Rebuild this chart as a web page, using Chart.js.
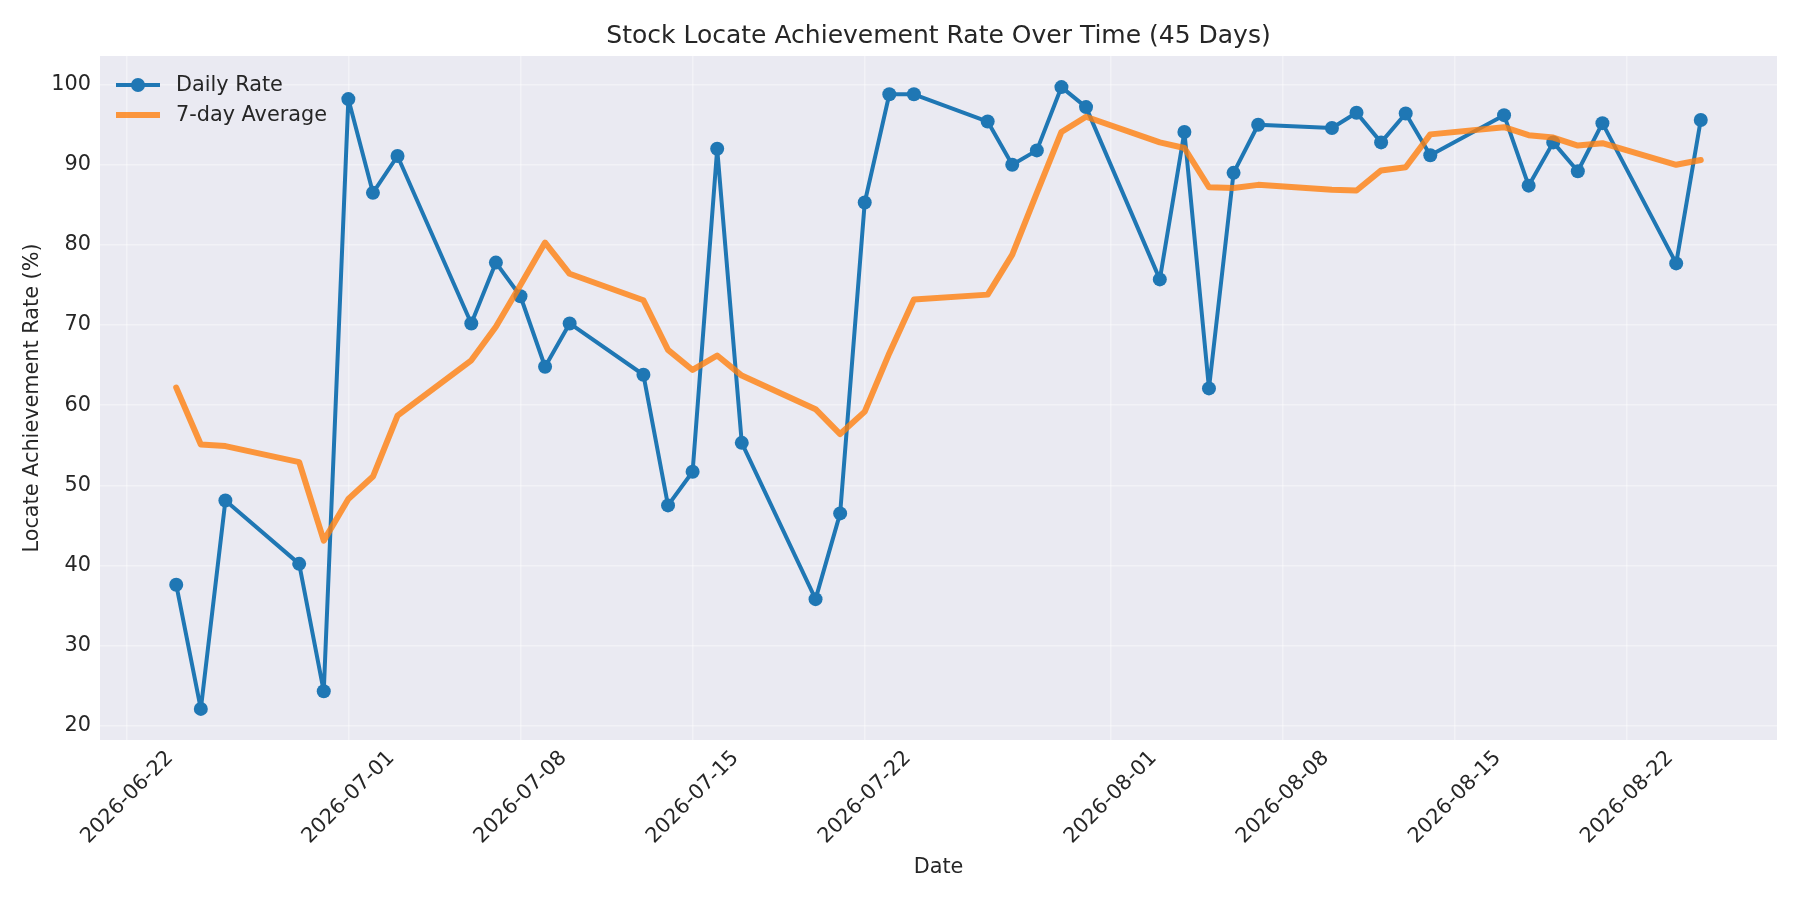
<!DOCTYPE html>
<html>
<head>
<meta charset="utf-8">
<script src="https://cdn.jsdelivr.net/npm/chart.js@4.4.1/dist/chart.umd.min.js"></script>
<style>
  html, body { margin: 0; padding: 0; background: #ffffff; }
  #wrap { width: 1800px; height: 900px; }
</style>
</head>
<body>
<div id="wrap"><canvas id="c" width="1800" height="900"></canvas></div>
<script>
const dates = [
  '2026-06-24','2026-06-25','2026-06-26','2026-06-29','2026-06-30',
  '2026-07-01','2026-07-02','2026-07-03','2026-07-06','2026-07-07',
  '2026-07-08','2026-07-09','2026-07-10','2026-07-13','2026-07-14',
  '2026-07-15','2026-07-16','2026-07-17','2026-07-20','2026-07-21',
  '2026-07-22','2026-07-23','2026-07-24','2026-07-27','2026-07-28',
  '2026-07-29','2026-07-30','2026-07-31','2026-08-03','2026-08-04',
  '2026-08-05','2026-08-06','2026-08-07','2026-08-10','2026-08-11',
  '2026-08-12','2026-08-13','2026-08-14','2026-08-17','2026-08-18',
  '2026-08-19','2026-08-20','2026-08-21','2026-08-24','2026-08-25'
];
const dailyRate = [
  37.6, 22.1, 48.1, 40.2, 24.3,
  98.2, 86.5, 91.1, 70.2, 77.8,
  73.6, 64.8, 70.2, 63.8, 47.5,
  51.7, 92.0, 55.3, 35.8, 46.5,
  85.3, 98.8, 98.8, 95.4, 90.0,
  91.8, 99.7, 97.2, 75.7, 94.1,
  62.1, 89.0, 95.0, 94.6, 96.5,
  92.8, 96.4, 91.2, 96.2, 87.4,
  92.8, 89.2, 95.2, 77.7, 95.6
];
const sevenDayAvg = [
  62.2, 55.1, 54.9, 52.9, 43.1,
  48.3, 51.1, 58.7, 65.6, 69.8,
  75.0, 80.3, 76.4, 73.1, 66.9,
  64.4, 66.2, 63.7, 59.5, 56.4,
  59.2, 66.5, 73.2, 73.8, 78.8,
  86.5, 94.1, 96.0, 92.8, 92.1,
  87.2, 87.1, 87.5, 86.9, 86.8,
  89.3, 89.7, 93.8, 94.7, 93.7,
  93.4, 92.4, 92.7, 90.0, 90.6
];
const xTickLabels = ['2026-06-22','2026-07-01','2026-07-08','2026-07-15','2026-07-22','2026-08-01','2026-08-08','2026-08-15','2026-08-22'];
const yTickValues = [20, 30, 40, 50, 60, 70, 80, 90, 100];

const DAY = 86400000;
const toDay = s => Date.UTC(+s.slice(0,4), +s.slice(5,7)-1, +s.slice(8,10)) / DAY;
const pad2 = n => String(n).padStart(2,'0');
const fmtDay = d => { const t = new Date(d*DAY); return t.getUTCFullYear()+'-'+pad2(t.getUTCMonth()+1)+'-'+pad2(t.getUTCDate()); };

const xs = dates.map(toDay);
const xSpan = xs[xs.length-1] - xs[0];
const xMin = xs[0] - 0.05*xSpan, xMax = xs[xs.length-1] + 0.05*xSpan;
const allY = dailyRate.concat(sevenDayAvg);
const yLo = Math.min(...allY), yHi = Math.max(...allY), ySpan = yHi - yLo;
const yMin = yLo - 0.05*ySpan, yMax = yHi + 0.05*ySpan;

const BLUE = '#1f77b4';
const ORANGE = 'rgba(255,127,14,0.8)';
const TEXT = '#262626';
const FONT = "'DejaVu Sans', sans-serif";
const GRID = 'rgba(255,255,255,0.4)';

const bgPlugin = {
  id: 'axesBg',
  beforeDraw(chart) {
    const {ctx, chartArea: a} = chart;
    ctx.save();
    ctx.fillStyle = '#ffffff';
    ctx.fillRect(0, 0, chart.width, chart.height);
    ctx.fillStyle = '#eaeaf2';
    ctx.fillRect(a.left, a.top, a.right - a.left, a.bottom - a.top);
    ctx.restore();
  }
};

// Legend drawn inside the axes (upper left), matplotlib style
const legendPlugin = {
  id: 'innerLegend',
  afterDraw(chart) {
    const {ctx, chartArea: a} = chart;
    const x0 = a.left + 16, handleW = 44, textX = x0 + handleW + 16;
    ctx.save();
    ctx.font = "20.8px 'DejaVu Sans', sans-serif";
    ctx.textBaseline = 'middle';
    ctx.textAlign = 'left';
    chart.data.datasets.forEach((ds, i) => {
      const y = a.top + 29 + i * 30;
      ctx.strokeStyle = ds.borderColor;
      ctx.lineWidth = ds.borderWidth;
      ctx.lineCap = 'butt';
      ctx.beginPath(); ctx.moveTo(x0, y); ctx.lineTo(x0 + handleW, y); ctx.stroke();
      if (ds.pointRadius > 0) {
        ctx.fillStyle = ds.pointBackgroundColor;
        ctx.beginPath(); ctx.arc(x0 + handleW/2, y, ds.pointRadius, 0, Math.PI*2); ctx.fill();
      }
      ctx.fillStyle = TEXT;
      ctx.fillText(ds.label, textX, y + 1);
    });
    ctx.restore();
  }
};

new Chart(document.getElementById('c'), {
  type: 'line',
  data: {
    datasets: [
      {
        label: 'Daily Rate',
        data: xs.map((x, i) => ({x, y: dailyRate[i]})),
        borderColor: BLUE, backgroundColor: BLUE,
        borderWidth: 4, pointRadius: 7, pointHoverRadius: 7,
        pointBackgroundColor: BLUE, pointBorderWidth: 0,
        pointStyle: 'circle', tension: 0, order: 2,
        borderCapStyle: 'round', borderJoinStyle: 'round'
      },
      {
        label: '7-day Average',
        data: xs.map((x, i) => ({x, y: sevenDayAvg[i]})),
        borderColor: ORANGE, backgroundColor: ORANGE,
        borderWidth: 6, pointRadius: 0, tension: 0, order: 1,
        borderCapStyle: 'round', borderJoinStyle: 'round'
      }
    ]
  },
  options: {
    responsive: false,
    animation: false,
    devicePixelRatio: 1,
    layout: { padding: { left: 0, right: 23, top: 0, bottom: 0 } },
    scales: {
      x: {
        type: 'linear', min: xMin, max: xMax,
        afterFit(s) { s.height = 160; },
        afterBuildTicks(s) { s.ticks = xTickLabels.map(l => ({value: toDay(l)})); },
        ticks: {
          autoSkip: false, maxRotation: 45, minRotation: 45,
          color: TEXT, font: { family: FONT, size: 20.8 },
          padding: 6, labelOffset: 43,
          callback: v => fmtDay(v)
        },
        grid: { color: GRID, lineWidth: 1.5, drawTicks: false },
        border: { display: false },
        title: { display: true, text: 'Date', color: TEXT, font: { family: FONT, size: 20.8 }, padding: { top: 0, bottom: 20 } }
      },
      y: {
        type: 'linear', min: yMin, max: yMax,
        afterFit(s) { s.width = 100; },
        afterBuildTicks(s) { s.ticks = yTickValues.map(v => ({value: v})); },
        ticks: { color: TEXT, font: { family: FONT, size: 20.8 }, padding: 9, callback: v => String(v) },
        grid: { color: GRID, lineWidth: 1.5, drawTicks: false },
        border: { display: false },
        title: { display: true, text: 'Locate Achievement Rate (%)', color: TEXT, font: { family: FONT, size: 20.8 }, padding: { top: 20, bottom: 0 } }
      }
    },
    plugins: {
      title: {
        display: true, fullSize: false,
        text: 'Stock Locate Achievement Rate Over Time (45 Days)',
        color: TEXT, font: { family: FONT, size: 25, weight: 'normal' },
        padding: { top: 21, bottom: 5 }
      },
      legend: { display: false },
      tooltip: { enabled: false }
    }
  },
  plugins: [bgPlugin, legendPlugin]
});
</script>
</body>
</html>
